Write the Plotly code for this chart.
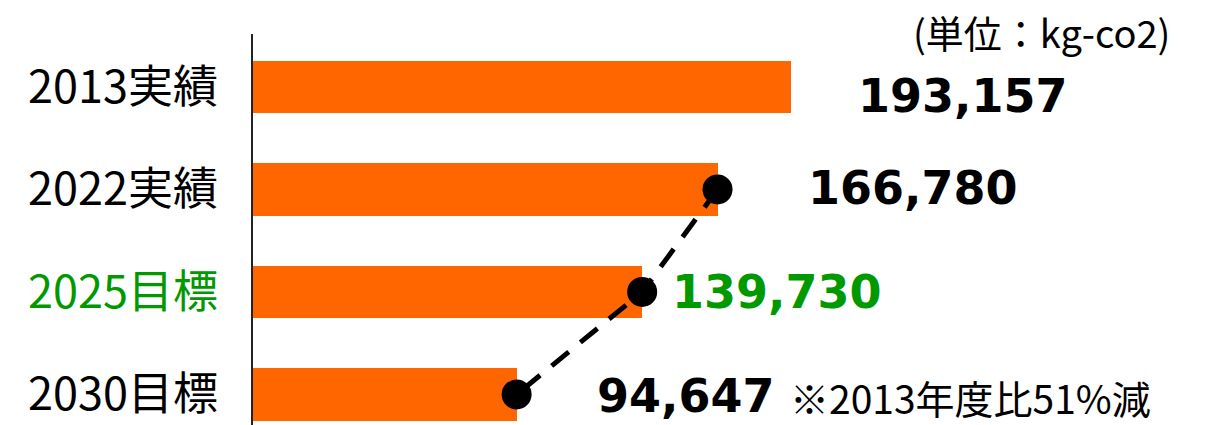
import plotly.graph_objects as go

categories = ["2013実績", "2022実績", "2025目標", "2030目標"]
values = [193157, 166780, 139730, 94647]
value_labels = ["193,157", "166,780", "139,730", "94,647"]
label_colors = ["#000000", "#000000", "#009900", "#000000"]
note_text = "※2013年度比51%減"
unit_text = "(単位：kg-co2)"

ORANGE = "#FF6600"
CJK = "Noto Sans CJK JP"

tick_text = [
    f"<span style='color:{c}'>{t}</span>" for t, c in zip(categories, label_colors)
]

fig = go.Figure()
fig.add_trace(go.Bar(
    x=values, y=categories, orientation="h",
    marker=dict(color=ORANGE, line=dict(width=0)),
    width=0.51, hoverinfo="skip",
))
fig.add_trace(go.Scatter(
    x=values[1:], y=categories[1:], mode="lines+markers",
    line=dict(color="black", width=5, dash="22px,15px"),
    marker=dict(color="black", size=30),
    hoverinfo="skip",
))

xshifts = [65, 88, 28, 78]
yshifts = [-9, 1, 0, -2]
for v, cat, lab, col, xs, ys in zip(values, categories, value_labels, label_colors, xshifts, yshifts):
    fig.add_annotation(
        x=v, y=cat, xref="x", yref="y", text=f"<b>{lab}</b>",
        showarrow=False, xanchor="left", yanchor="middle",
        xshift=xs, yshift=ys,
        font=dict(family="DejaVu Sans", size=46, color=col),
    )

fig.add_annotation(
    x=values[3], y=categories[3], xref="x", yref="y", text=note_text,
    showarrow=False, xanchor="left", yanchor="middle",
    xshift=271, yshift=-3,
    font=dict(family=CJK, size=39, color="black"),
)
fig.add_annotation(
    x=1, y=1, xref="paper", yref="paper", yanchor="middle", xanchor="right",
    text=unit_text, showarrow=False, xshift=-34, yshift=3,
    font=dict(family=CJK, size=38, color="black"),
)

fig.update_layout(
    width=1206, height=425,
    margin=dict(l=253, r=0, t=34, b=0),
    paper_bgcolor="white", plot_bgcolor="white",
    showlegend=False, bargap=0,
    xaxis=dict(range=[0, 342155], visible=False, showgrid=False, zeroline=False),
    yaxis=dict(
        type="category", range=[3.298, -0.517],
        tickmode="array", tickvals=categories, ticktext=tick_text,
        showline=True, linecolor="#222222", linewidth=2,
        ticks="", showgrid=False, zeroline=False,
        ticklabelstandoff=24,
        tickfont=dict(family=CJK, size=45, color="black"),
    ),
)

fig.write_html("out.html")
